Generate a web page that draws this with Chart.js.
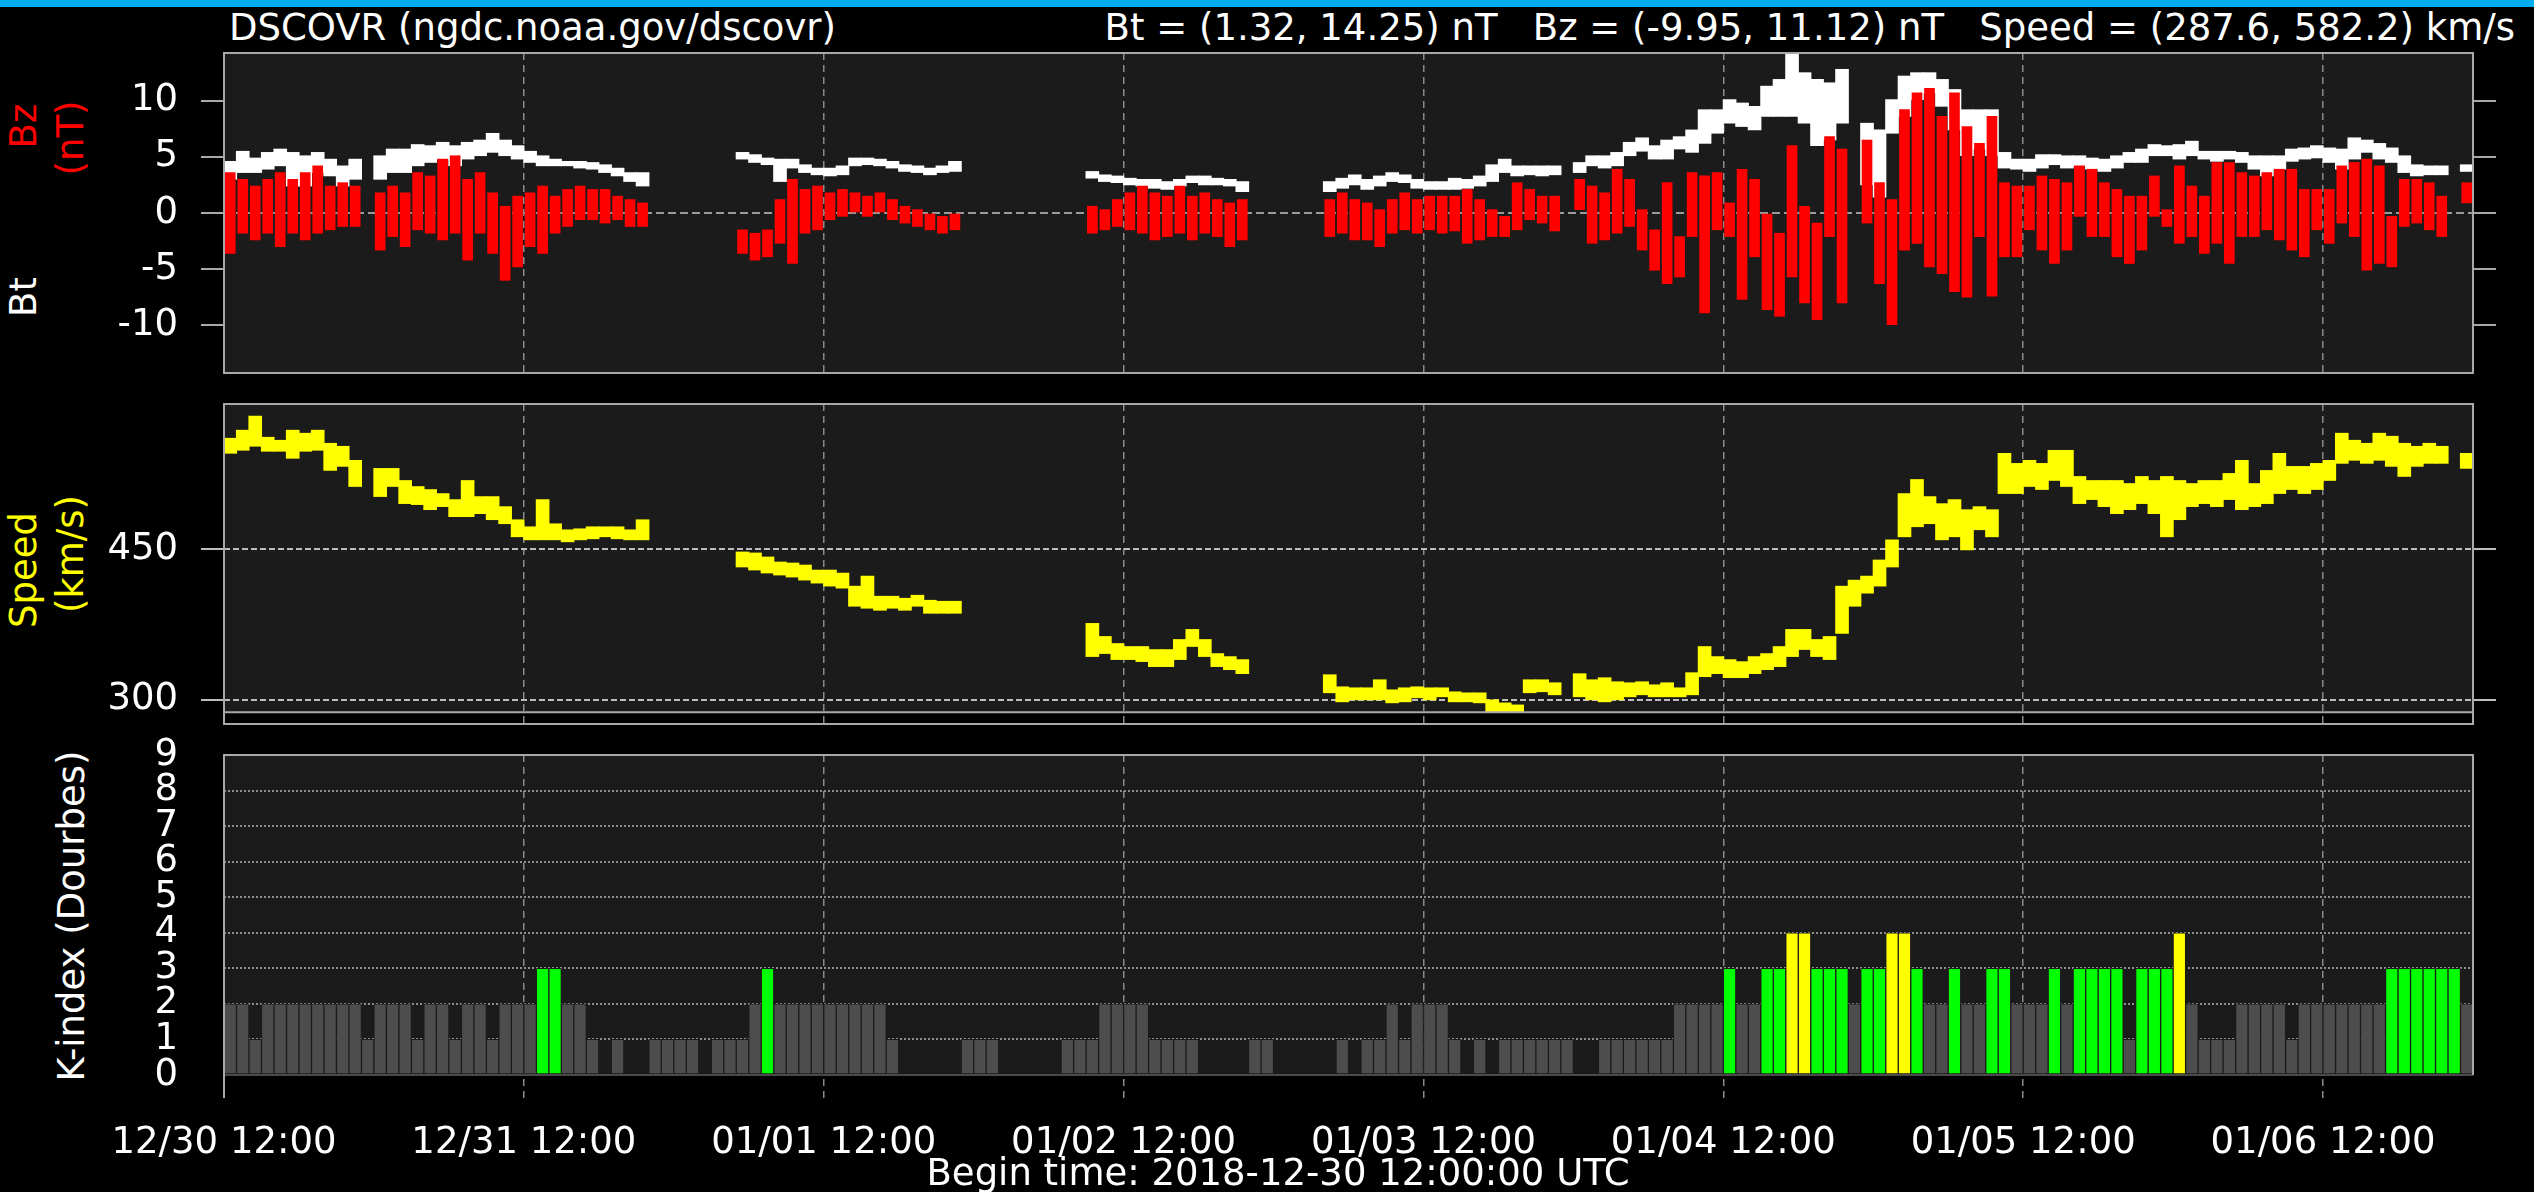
<!DOCTYPE html>
<html>
<head>
<meta charset="utf-8">
<script src="https://cdn.jsdelivr.net/npm/chart.js@4.4.1/dist/chart.umd.min.js"></script>
<style>
  html, body { margin: 0; padding: 0; background: #000; width: 2534px; height: 1192px; overflow: hidden; }
  body { position: relative; font-family: 'DejaVu Sans'; color: #fff; }
  .topbar { position: absolute; left: 0; top: 0; width: 2534px; height: 7px; background: #00aeef; }
  .txt { position: absolute; font-size: 37px; line-height: 37px; white-space: pre; }
  .vl { position: absolute; font-size: 37px; line-height: 37px; white-space: pre; transform: translate(-50%, -50%) rotate(-90deg); }
  canvas { position: absolute; left: 0; }
</style>
</head>
<body>
<div class="topbar"></div>
<div class="txt" style="left:229px; top:9px;">DSCOVR (ngdc.noaa.gov/dscovr)</div>
<div class="txt" style="right:19px; top:9px;">Bt = (1.32, 14.25) nT   Bz = (-9.95, 11.12) nT   Speed = (287.6, 582.2) km/s</div>

<div class="vl" style="left:23px; top:126px; color:#ff0000;">Bz</div>
<div class="vl" style="left:70px; top:138px; color:#ff0000;">(nT)</div>
<div class="vl" style="left:23px; top:297px; color:#fff;">Bt</div>
<div class="vl" style="left:23px; top:570px; color:#ffff00;">Speed</div>
<div class="vl" style="left:70px; top:554px; color:#ffff00;">(km/s)</div>
<div style="position:absolute; left:0; top:753px; width:140px; height:439px; overflow:hidden;">
  <div class="vl" style="left:71px; top:163px; color:#fff;">K-index (Dourbes)</div>
</div>

<canvas id="magChart" width="2534" height="340" style="top:43px;"></canvas>
<canvas id="speedChart" width="2534" height="340" style="top:394px;"></canvas>
<canvas id="kpChart" width="2534" height="467" style="top:725px;"></canvas>

<div class="txt" style="left:1278px; top:1154px; transform:translateX(-50%);">Begin time: 2018-12-30 12:00:00 UTC</div>

<script>
// time axis: hours after 2018-12-30 12:00 UTC
const xTickHours = [0, 24, 48, 72, 96, 120, 144, 168];
const xTickLabels = ['12/30 12:00', '12/31 12:00', '01/01 12:00', '01/02 12:00',
  '01/03 12:00', '01/04 12:00', '01/05 12:00', '01/06 12:00'];
const hours = Array.from({ length: 180 }, (_, i) => i);

const bzTicks = [-10, -5, 0, 5, 10];
const speedTicks = [300, 450];
const kTicks = [0, 1, 2, 3, 4, 5, 6, 7, 8, 9];
const bzRange = [-14.25, 14.25];
const speedRange = [276, 594];
const kRange = [-0.65, 9];
const speedFloor = 287.6;

// hourly spread of the 1-minute data (low / high), null = no data
const btLo = [
  3.0, 3.6, 3.6, 3.9, 4.2, 2.4, 2.4, 3.6, 3.3, 2.4, 3.0, null,
  3.0, 3.6, 3.6, 4.2, 4.5, 4.8, 4.2, 4.8, 5.1, 5.4, 5.1, 4.8,
  4.5, 4.2, 4.2, 4.2, 4.0, 3.9, 3.6, 3.3, 2.8, 2.4, null, null,
  null, null, null, null, null, 4.8, 4.5, 4.3, 2.8, 4.0, 3.6, 3.4,
  3.3, 3.4, 4.2, 4.3, 4.2, 4.0, 3.7, 3.6, 3.4, 3.6, 3.7, null,
  null, null, null, null, null, null, null, null, null, 3.1, 2.8, 2.7,
  2.5, 2.4, 2.2, 2.1, 2.4, 2.7, 2.5, 2.5, 2.4, 1.9, null, null,
  null, null, null, null, 1.9, 2.2, 2.5, 2.1, 2.4, 2.8, 2.7, 2.2,
  2.1, 2.1, 2.1, 2.2, 2.4, 2.8, 3.6, 3.3, 3.4, 3.3, 3.4, null,
  3.6, 4.2, 4.0, 4.2, 5.1, 5.5, 4.8, 4.8, 5.7, 5.4, 6.2, 7.1,
  8.0, 7.7, 7.4, 8.6, 8.6, 8.6, 8.0, 6.0, 6.5, 8.0, null, 2.5,
  1.4, 7.1, 8.6, 10.1, 10.7, 9.5, 7.4, 5.1, 5.7, 5.1, 4.0, 3.9,
  3.7, 4.0, 4.3, 4.0, 4.2, 3.9, 3.7, 4.0, 4.5, 4.5, 5.1, 5.1,
  4.8, 5.1, 4.8, 4.6, 4.8, 4.5, 3.9, 3.3, 3.9, 4.6, 4.8, 4.9,
  4.5, 3.9, 4.8, 5.4, 4.8, 4.5, 3.6, 3.3, 3.4, 3.4, null, 3.7
];
const btHi = [
  4.6, 5.5, 4.9, 5.4, 5.7, 5.4, 5.1, 5.4, 4.8, 4.2, 4.8, null,
  5.1, 5.7, 5.7, 6.1, 6.0, 6.3, 6.0, 6.3, 6.5, 7.1, 6.5, 6.0,
  5.5, 5.1, 4.8, 4.6, 4.6, 4.5, 4.3, 4.0, 3.6, 3.6, null, null,
  null, null, null, null, null, 5.4, 5.2, 4.9, 4.8, 4.8, 4.3, 4.0,
  4.0, 4.2, 4.9, 4.9, 4.8, 4.6, 4.3, 4.2, 4.0, 4.2, 4.6, null,
  null, null, null, null, null, null, null, null, null, 3.7, 3.4, 3.3,
  3.1, 3.0, 3.0, 2.8, 3.0, 3.3, 3.3, 3.1, 3.0, 2.8, null, null,
  null, null, null, null, 2.8, 3.1, 3.4, 3.0, 3.3, 3.6, 3.4, 3.0,
  2.8, 2.8, 3.1, 3.0, 3.3, 4.3, 4.8, 4.2, 4.2, 4.2, 4.2, null,
  4.5, 5.1, 5.1, 5.4, 6.3, 6.7, 6.0, 6.5, 6.8, 7.4, 9.2, 9.2,
  10.1, 9.8, 9.5, 11.3, 11.9, 14.25, 12.5, 11.9, 11.6, 12.8, null, 8.0,
  7.4, 10.1, 12.2, 12.5, 12.5, 11.9, 11.0, 9.2, 9.2, 9.2, 5.4, 4.8,
  4.8, 5.2, 5.2, 5.1, 5.1, 4.9, 4.8, 5.1, 5.4, 5.7, 6.1, 6.0,
  6.1, 6.4, 5.5, 5.5, 5.5, 5.4, 5.1, 5.1, 5.1, 5.7, 5.8, 6.0,
  5.8, 5.7, 6.7, 6.5, 6.2, 5.8, 5.1, 4.3, 4.2, 4.2, null, 4.3
];
const bzLo = [
  -3.6, -1.8, -2.4, -1.8, -3.0, -1.8, -2.4, -1.8, -1.5, -1.2, -1.2, null,
  -3.3, -2.1, -3.0, -1.5, -1.8, -2.4, -1.8, -4.2, -1.8, -3.6, -6.0, -4.8,
  -3.0, -3.6, -1.8, -1.2, -0.6, -0.6, -0.9, -0.6, -1.2, -1.2, null, null,
  null, null, null, null, null, -3.6, -4.2, -3.9, -2.7, -4.5, -1.8, -1.5,
  -0.6, -0.3, 0.0, -0.3, 0.0, -0.6, -0.9, -1.2, -1.5, -1.8, -1.5, null,
  null, null, null, null, null, null, null, null, null, -1.8, -1.5, -1.2,
  -1.5, -1.8, -2.4, -2.1, -1.8, -2.4, -1.8, -2.1, -3.0, -2.4, null, null,
  null, null, null, null, -2.1, -1.8, -2.4, -2.4, -3.0, -1.8, -1.5, -1.8,
  -1.5, -1.8, -1.6, -2.7, -2.4, -2.1, -2.1, -1.5, -0.6, -0.9, -1.6, null,
  0.3, -2.7, -2.4, -1.8, -1.2, -3.3, -5.1, -6.3, -5.7, -2.1, -8.9, -1.5,
  -2.1, -7.7, -3.9, -8.6, -9.2, -5.7, -8.0, -9.5, -2.1, -8.0, null, -0.9,
  -6.3, -9.95, -3.3, -2.7, -4.8, -5.4, -7.0, -7.5, -2.1, -7.4, -3.9, -3.9,
  -1.5, -3.3, -4.5, -3.3, -0.3, -2.1, -2.1, -3.9, -4.5, -3.3, -0.3, -1.2,
  -2.7, -2.1, -3.6, -2.7, -4.5, -2.1, -2.1, -1.5, -2.4, -3.3, -3.9, -1.5,
  -2.7, -0.9, -2.1, -5.1, -4.5, -4.8, -1.2, -0.9, -1.5, -2.1, null, 0.9
];
const bzHi = [
  3.6, 3.0, 2.4, 3.0, 3.6, 3.0, 3.6, 4.2, 2.4, 2.7, 2.4, null,
  1.8, 2.4, 1.8, 3.6, 3.3, 4.8, 5.1, 3.0, 3.6, 1.8, 0.6, 1.5,
  1.8, 2.4, 1.5, 2.1, 2.4, 2.1, 2.1, 1.5, 1.2, 0.9, null, null,
  null, null, null, null, null, -1.5, -1.8, -1.5, 1.2, 3.0, 2.1, 2.4,
  1.8, 2.1, 1.8, 1.5, 1.8, 1.2, 0.6, 0.3, 0.0, -0.3, 0.0, null,
  null, null, null, null, null, null, null, null, null, 0.6, 0.3, 1.2,
  1.8, 2.4, 1.8, 1.5, 2.4, 1.5, 1.8, 1.2, 0.9, 1.2, null, null,
  null, null, null, null, 1.2, 1.8, 1.2, 0.9, 0.3, 1.2, 1.8, 1.2,
  1.5, 1.5, 1.5, 2.1, 1.2, 0.3, -0.3, 2.7, 2.1, 1.5, 1.5, null,
  3.0, 2.4, 1.8, 3.9, 3.0, 0.3, -1.5, 2.7, -2.1, 3.6, 3.3, 3.6,
  0.9, 3.9, 3.0, 0.0, -1.8, 6.0, 0.6, -0.9, 6.8, 5.7, null, 6.5,
  2.7, 1.2, 9.2, 10.7, 11.1, 8.6, 10.7, 7.7, 6.2, 8.6, 2.7, 2.4,
  2.4, 3.3, 3.0, 2.7, 4.2, 3.9, 2.7, 2.1, 1.5, 1.5, 3.3, 0.3,
  4.2, 2.4, 1.5, 4.5, 4.5, 3.6, 3.3, 3.6, 3.9, 3.9, 2.1, 2.1,
  2.1, 4.2, 4.5, 4.8, 4.2, -0.3, 3.0, 3.0, 2.7, 1.5, null, 2.7
];
const speedLo = [
  545, 548, 552, 547, 547, 540, 547, 548, 528, 532, 512, null,
  502, 512, 495, 494, 489, 492, 482, 482, 485, 479, 475, 462,
  459, 459, 459, 457, 459, 460, 462, 460, 459, 459, null, null,
  null, null, null, null, null, 432, 429, 426, 424, 422, 419, 416,
  413, 411, 393, 391, 389, 391, 389, 393, 386, 386, 386, null,
  null, null, null, null, null, null, null, null, null, 343, 346, 340,
  340, 338, 333, 333, 340, 353, 343, 333, 330, 326, null, null,
  null, null, null, null, 307, 298, 300, 300, 300, 297, 298, 302,
  300, 303, 298, 298, 297, 288, 287.6, 287.6, 307, 308, 305, null,
  303, 300, 298, 300, 303, 305, 303, 303, 303, 305, 323, 326,
  322, 322, 326, 330, 333, 343, 350, 343, 340, 366, 393, 406,
  413, 432, 462, 472, 475, 459, 462, 449, 469, 462, 505, 505,
  512, 509, 518, 512, 495, 499, 492, 485, 489, 495, 485, 462,
  479, 492, 495, 492, 499, 489, 492, 495, 505, 509, 505, 509,
  518, 535, 538, 535, 538, 532, 522, 532, 535, 535, null, 530
];
const speedHi = [
  560, 568, 582, 561, 558, 568, 565, 568, 555, 552, 538, null,
  530, 530, 518, 512, 509, 505, 499, 518, 502, 502, 492, 479,
  472, 499, 475, 469, 470, 472, 472, 472, 469, 479, null, null,
  null, null, null, null, null, 447, 446, 442, 437, 436, 434, 429,
  429, 426, 413, 423, 403, 403, 401, 404, 399, 398, 398, null,
  null, null, null, null, null, null, null, null, null, 376, 363, 356,
  353, 353, 350, 350, 360, 370, 360, 346, 343, 340, null, null,
  null, null, null, null, 325, 313, 312, 312, 320, 310, 312, 313,
  312, 312, 308, 307, 307, 300, 297, 295, 320, 320, 317, null,
  326, 320, 322, 318, 317, 318, 315, 317, 312, 327, 353, 343,
  340, 338, 343, 346, 353, 370, 370, 360, 363, 413, 419, 423,
  439, 459, 505, 519, 502, 495, 499, 489, 492, 489, 545, 535,
  538, 535, 548, 548, 522, 518, 518, 518, 515, 522, 518, 522,
  518, 515, 518, 518, 525, 538, 515, 528, 545, 532, 532, 535,
  538, 565, 558, 555, 565, 562, 555, 552, 555, 552, null, 545
];
// hourly K-index, Dourbes
const kIndex = [
  2, 2, 1, 2, 2, 2, 2, 2, 2, 2, 2, 1,
  2, 2, 2, 1, 2, 2, 1, 2, 2, 1, 2, 2,
  2, 3, 3, 2, 2, 1, 0, 1, 0, 0, 1, 1,
  1, 1, 0, 1, 1, 1, 2, 3, 2, 2, 2, 2,
  2, 2, 2, 2, 2, 1, 0, 0, 0, 0, 0, 1,
  1, 1, 0, 0, 0, 0, 0, 1, 1, 1, 2, 2,
  2, 2, 1, 1, 1, 1, 0, 0, 0, 0, 1, 1,
  0, 0, 0, 0, 0, 1, 0, 1, 1, 2, 1, 2,
  2, 2, 1, 0, 1, 0, 1, 1, 1, 1, 1, 1,
  0, 0, 1, 1, 1, 1, 1, 1, 2, 2, 2, 2,
  3, 2, 2, 3, 3, 4, 4, 3, 3, 3, 2, 3,
  3, 4, 4, 3, 2, 2, 3, 2, 2, 3, 3, 2,
  2, 2, 3, 2, 3, 3, 3, 3, 1, 3, 3, 3,
  4, 2, 1, 1, 1, 2, 2, 2, 2, 1, 2, 2,
  2, 2, 2, 2, 2, 3, 3, 3, 3, 3, 3, 2
];

Chart.defaults.font.family = "'DejaVu Sans'";
Chart.defaults.font.size = 37;
Chart.defaults.color = '#fff';

const toBars = (lo, hi) => hours.flatMap((h, i) =>
  lo[i] == null ? [] : [{ x: h + 0.5, y: [lo[i], hi[i]] }]);

// dark plot background and light frame, like the NOAA plot
const panelPlugin = {
  id: 'panel',
  beforeDraw(chart, args, o) {
    const { ctx, chartArea: a, scales: { y } } = chart;
    const top = o.bgTo != null ? y.getPixelForValue(o.bgTo) : a.top;
    const bot = o.bgFrom != null ? y.getPixelForValue(o.bgFrom) : a.bottom;
    ctx.save();
    ctx.fillStyle = '#1b1b1b';
    ctx.fillRect(a.left, top, a.right - a.left, bot - top);
    ctx.restore();
  },
  afterDraw(chart, args, o) {
    const { ctx, chartArea: a, scales: { y } } = chart;
    ctx.save();
    ctx.lineWidth = 2;
    if (o.floorLine) {
      const fy = y.getPixelForValue(o.bgFrom);
      ctx.strokeStyle = o.floorLine;
      ctx.beginPath();
      ctx.moveTo(a.left, fy);
      ctx.lineTo(a.right, fy);
      ctx.stroke();
    }
    ctx.strokeStyle = '#a8a8a8';
    ctx.beginPath();
    if (o.openBottom) {
      const fy = y.getPixelForValue(o.bgFrom);
      ctx.moveTo(a.left, a.bottom);
      ctx.lineTo(a.left, a.top);
      ctx.lineTo(a.right, a.top);
      ctx.lineTo(a.right, fy);
    } else {
      ctx.rect(a.left, a.top, a.right - a.left, a.bottom - a.top);
    }
    ctx.stroke();
    ctx.restore();
  }
};

function xAxis(showLabels, height) {
  return {
    type: 'linear', min: 0, max: 180, offset: false,
    afterBuildTicks: s => { s.ticks = xTickHours.map(v => ({ value: v })); },
    afterFit: s => {
      s.height = height;
      s.paddingLeft = 0; s.paddingRight = 0; s.paddingTop = 0; s.paddingBottom = 0;
    },
    grid: { color: '#8a8a8a', lineWidth: 1.5, drawTicks: false, offset: false },
    border: { display: false, dash: [7, 5] },
    ticks: {
      display: showLabels, padding: 23, maxRotation: 0, autoSkip: false,
      callback: (v, i) => xTickLabels[i]
    }
  };
}

function yAxis(range, tickValues, gridColor, dash, tickColor, side) {
  const left = side === 'left';
  return {
    position: side, min: range[0], max: range[1],
    afterBuildTicks: s => { s.ticks = tickValues.map(v => ({ value: v })); },
    afterFit: s => {
      s.width = left ? 224 : 61;
      s.paddingTop = 0; s.paddingBottom = 0; s.paddingLeft = 0; s.paddingRight = 0;
    },
    grid: {
      color: gridColor, lineWidth: 2, drawOnChartArea: left,
      drawTicks: true, tickLength: 23, tickColor: tickColor, tickWidth: 2
    },
    border: { display: false, dash: dash },
    ticks: { display: left, padding: 23, autoSkip: false }
  };
}

const common = {
  responsive: false,
  animation: false,
  devicePixelRatio: 1,
  events: []
};

// Bt and Bz
const zeroOnly = ctx => (ctx.tick && ctx.tick.value === 0) ? '#9a9a9a' : 'rgba(0,0,0,0)';
new Chart(document.getElementById('magChart'), {
  type: 'bar',
  data: {
    datasets: [
      { label: 'Bz', data: toBars(bzLo, bzHi), backgroundColor: '#ff0000',
        barThickness: 10, grouped: false, borderWidth: 0 },
      { label: 'Bt', data: toBars(btLo, btHi), backgroundColor: '#ffffff',
        barThickness: 13, grouped: false, borderWidth: 0 }
    ]
  },
  options: {
    ...common,
    layout: { padding: { top: 10, bottom: 10, left: 0, right: 0 } },
    plugins: { legend: { display: false }, tooltip: { enabled: false }, panel: {} },
    scales: {
      x: xAxis(false, 0),
      y: yAxis(bzRange, bzTicks, zeroOnly, [8, 4], '#a8a8a8', 'left'),
      yR: yAxis(bzRange, bzTicks, zeroOnly, [8, 4], '#a8a8a8', 'right')
    }
  },
  plugins: [panelPlugin]
});

// solar wind speed
new Chart(document.getElementById('speedChart'), {
  type: 'bar',
  data: {
    datasets: [
      { label: 'Speed', data: toBars(speedLo, speedHi), backgroundColor: '#ffff00',
        barThickness: 13, grouped: false, borderWidth: 0 }
    ]
  },
  options: {
    ...common,
    layout: { padding: { top: 10, bottom: 10, left: 0, right: 0 } },
    plugins: {
      legend: { display: false }, tooltip: { enabled: false },
      panel: { bgFrom: speedFloor, floorLine: '#a8a8a8' }
    },
    scales: {
      x: xAxis(false, 0),
      y: yAxis(speedRange, speedTicks, '#bdbdbd', [6, 3], '#bdbdbd', 'left'),
      yR: yAxis(speedRange, speedTicks, '#bdbdbd', [6, 3], '#bdbdbd', 'right')
    }
  },
  plugins: [panelPlugin]
});

// K-index bars
const kColor = ctx => {
  const v = ctx.raw ? ctx.raw.y : 0;
  return v >= 4 ? '#ffff00' : v === 3 ? '#00ff00' : '#4d4d4d';
};
const kGrid = ctx => (ctx.tick && ctx.tick.value > 0 && ctx.tick.value < 9) ? '#8f8f8f' : 'rgba(0,0,0,0)';
new Chart(document.getElementById('kpChart'), {
  type: 'bar',
  data: {
    datasets: [
      { label: 'K-index', data: hours.map((h, i) => ({ x: h + 0.5, y: kIndex[i] })),
        backgroundColor: kColor, borderColor: '#1c1c1c',
        borderWidth: ctx => (ctx.raw && ctx.raw.y > 0) ? 1 : 0, borderSkipped: false,
        barThickness: 12.5, grouped: false }
    ]
  },
  options: {
    ...common,
    layout: { padding: { top: 30, bottom: 0, left: 0, right: 61 } },
    plugins: {
      legend: { display: false }, tooltip: { enabled: false },
      panel: { bgFrom: 0, floorLine: '#4a4a4a', openBottom: true }
    },
    scales: {
      x: xAxis(true, 94),
      y: {
        position: 'left', min: kRange[0], max: kRange[1],
        afterBuildTicks: s => { s.ticks = kTicks.map(v => ({ value: v })); },
        afterFit: s => {
          s.width = 224;
          s.paddingTop = 0; s.paddingBottom = 0; s.paddingLeft = 0; s.paddingRight = 0;
        },
        grid: { color: kGrid, lineWidth: 2, drawTicks: true, tickLength: 23, tickColor: 'rgba(0,0,0,0)' },
        border: { display: false, dash: [2, 2] },
        ticks: { padding: 23, autoSkip: false }
      }
    }
  },
  plugins: [panelPlugin]
});
</script>
</body>
</html>
